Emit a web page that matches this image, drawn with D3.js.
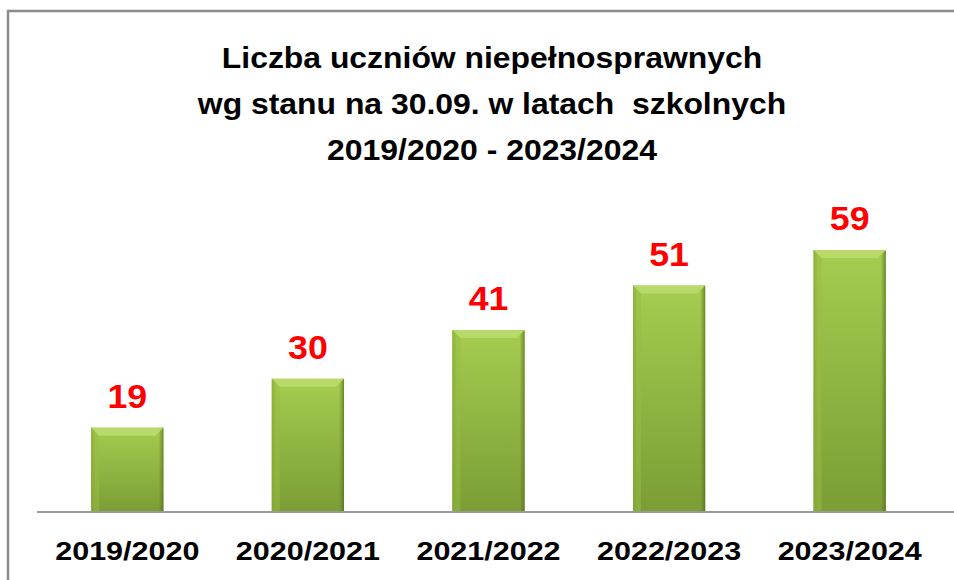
<!DOCTYPE html>
<html>

<head>
    <meta charset="utf-8">
    <title>Liczba uczniów niepełnosprawnych</title>
    <script src="https://d3js.org/d3.v7.min.js"></script>
    <style>
        body { margin: 0; background: #fff; }
        text { font-family: "Liberation Sans", Arial, sans-serif; font-weight: bold; }
    </style>
</head>

<body>
    <div id="chart"></div>
    <script>
        // data
        var years = ["2019/2020", "2020/2021", "2021/2022", "2022/2023", "2023/2024"];
        var students = [19, 30, 41, 51, 59];
        var titleLines = ["Liczba uczniów niepełnosprawnych", "wg stanu na 30.09. w latach  szkolnych", "2019/2020 - 2023/2024"];

        var W = 954, H = 580;
        var margin = { top: 200, right: 14, bottom: 68, left: 37 };

        var svg = d3.select("#chart").append("svg")
            .attr("width", W)
            .attr("height", H);

        var defs = svg.append("defs");
        var g1 = defs.append("linearGradient").attr("id", "barFill")
            .attr("x1", 0).attr("y1", 0).attr("x2", 0).attr("y2", 1);
        g1.append("stop").attr("offset", "0%").attr("stop-color", "#a6cc50");
        g1.append("stop").attr("offset", "100%").attr("stop-color", "#7b9d35");

        var g2 = defs.append("linearGradient").attr("id", "barSide")
            .attr("x1", 0).attr("y1", 0).attr("x2", 1).attr("y2", 0);
        g2.append("stop").attr("offset", "0%").attr("stop-color", "#5d7a22").attr("stop-opacity", 0.5);
        g2.append("stop").attr("offset", "6%").attr("stop-color", "#5d7a22").attr("stop-opacity", 0);
        g2.append("stop").attr("offset", "93%").attr("stop-color", "#5d7a22").attr("stop-opacity", 0);
        g2.append("stop").attr("offset", "100%").attr("stop-color", "#4d6a18").attr("stop-opacity", 0.7);

        // chart frame (only left and top visible)
        svg.append("path")
            .attr("d", "M8," + (H + 5) + "V11H" + (W + 5))
            .attr("fill", "none")
            .attr("stroke", "#8c8c8c")
            .attr("stroke-width", 2.5);

        var x = d3.scaleBand()
            .domain(years)
            .range([margin.left, W - margin.right])
            .paddingInner(0.6)
            .paddingOuter(0.3);

        var y = d3.scaleLinear()
            .domain([0, 70])
            .range([H - margin.bottom, H - margin.bottom - 70 * 4.44]);

        var bars = svg.selectAll(".bar")
            .data(students)
            .enter().append("g")
            .attr("class", "bar");

        bars.append("rect")
            .attr("x", function (d, i) { return x(years[i]); })
            .attr("y", function (d) { return y(d); })
            .attr("width", x.bandwidth())
            .attr("height", function (d) { return y(0) - y(d); })
            .attr("fill", "url(#barFill)");

        bars.append("rect")
            .attr("x", function (d, i) { return x(years[i]); })
            .attr("y", function (d) { return y(d); })
            .attr("width", x.bandwidth())
            .attr("height", function (d) { return y(0) - y(d); })
            .attr("fill", "url(#barSide)");

        // bevel on the top face
        var bev = 8;
        bars.append("path")
            .attr("d", function (d, i) {
                var x0 = x(years[i]), x1 = x0 + x.bandwidth(), t = y(d);
                return "M" + x0 + "," + t + "H" + x1 + "L" + (x1 - bev) + "," + (t + bev) + "H" + (x0 + bev) + "Z";
            })
            .attr("fill", "#b7da6a");

        bars.append("path")
            .attr("d", function (d, i) {
                var x0 = x(years[i]), x1 = x0 + x.bandwidth(), t = y(d);
                return "M" + x0 + "," + t + "L" + (x0 + bev) + "," + (t + bev) + "V" + y(0) + "H" + x0 + "Z";
            })
            .attr("fill", "#97bd42")
            .attr("opacity", 0.5);

        // value labels
        svg.selectAll(".val")
            .data(students)
            .enter().append("text")
            .attr("class", "val")
            .attr("transform", function (d, i) { return "translate(" + (x(years[i]) + x.bandwidth() / 2) + "," + (y(d) - 20) + ") scale(1.05,1)"; })
            .attr("text-anchor", "middle")
            .style("font-size", "34px")
            .style("fill", "#ff0000")
            .text(function (d) { return d; });

        // baseline axis
        var axis = svg.append("g")
            .attr("transform", "translate(0," + y(0) + ")")
            .call(d3.axisBottom(x).tickSize(0).tickPadding(0));
        axis.select(".domain").attr("stroke", "#9a9a9a").attr("stroke-width", 2)
            .attr("d", "M" + margin.left + ",0H" + W);
        axis.selectAll(".tick text").remove();

        svg.selectAll(".xlab")
            .data(years)
            .enter().append("text")
            .attr("class", "xlab")
            .attr("transform", function (d) { return "translate(" + (x(d) + x.bandwidth() / 2) + "," + (y(0) + 48) + ") scale(1.22,1)"; })
            .attr("text-anchor", "middle")
            .style("font-size", "25px")
            .style("fill", "#000")
            .text(function (d) { return d; });

        // title
        svg.selectAll(".title")
            .data(titleLines)
            .enter().append("text")
            .attr("class", "title")
            .attr("transform", function (d, i) { return "translate(492," + (68 + i * 46) + ") scale(1.1,1)"; })
            .attr("text-anchor", "middle")
            .style("font-size", "29px")
            .style("fill", "#000")
            .style("white-space", "pre")
            .text(function (d) { return d; });
    </script>
</body>

</html>
